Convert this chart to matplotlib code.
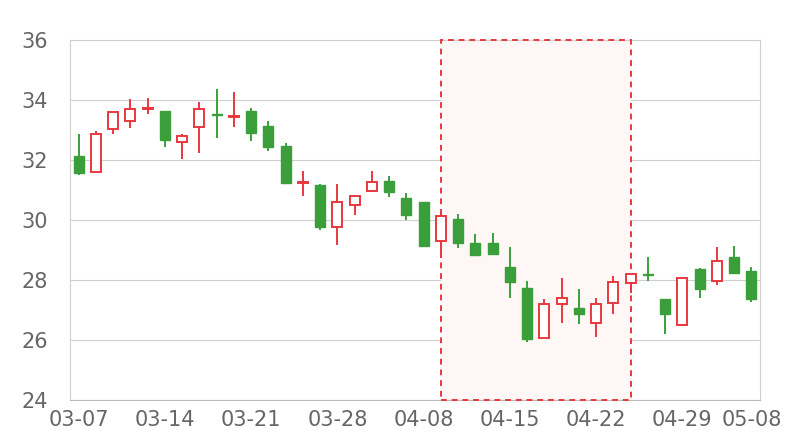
import matplotlib
matplotlib.use("Agg")
import matplotlib.pyplot as plt

# trading days
dates = ["03-07", "03-08", "03-11", "03-12", "03-13", "03-14", "03-15", "03-18", "03-19", "03-20",
         "03-21", "03-22", "03-25", "03-26", "03-27", "03-28", "03-29", "04-01", "04-02", "04-03",
         "04-08", "04-09", "04-10", "04-11", "04-12", "04-15", "04-16", "04-17", "04-18", "04-19",
         "04-22", "04-23", "04-24", "04-25", "04-26", "04-29", "04-30", "05-06", "05-07", "05-08"]

opens = [32.13, 31.61, 33.03, 33.30, 33.69, 33.62, 32.59, 33.11, 33.52, 33.43,
         33.63, 33.13, 32.47, 31.22, 31.16, 29.78, 30.50, 30.97, 31.30, 30.74,
         30.61, 29.31, 30.03, 29.24, 29.22, 28.44, 27.74, 26.08, 27.19, 27.08,
         26.56, 27.22, 27.91, 28.20, 27.37, 26.50, 28.36, 27.98, 28.76, 28.31]
closes = [31.56, 32.86, 33.59, 33.69, 33.72, 32.67, 32.81, 33.69, 33.49, 33.46,
          32.91, 32.42, 31.25, 31.26, 29.76, 30.61, 30.80, 31.26, 30.93, 30.17,
          29.14, 30.14, 29.22, 28.83, 28.87, 27.95, 26.02, 27.20, 27.39, 26.86,
          27.20, 27.94, 28.20, 28.18, 26.87, 28.06, 27.69, 28.63, 28.24, 27.36]
highs = [32.87, 32.95, 33.60, 34.02, 34.06, 33.63, 32.86, 33.92, 34.36, 34.28,
         33.74, 33.30, 32.56, 31.64, 31.19, 31.20, 30.82, 31.63, 31.48, 30.89,
         30.61, 30.28, 30.19, 29.53, 29.57, 29.11, 27.97, 27.36, 28.06, 27.69,
         27.39, 28.14, 28.24, 28.78, 27.38, 28.07, 28.39, 29.09, 29.13, 28.42]
lows = [31.51, 31.56, 32.87, 33.08, 33.52, 32.44, 32.02, 32.22, 32.72, 33.09,
        32.64, 32.31, 31.24, 30.80, 29.67, 29.17, 30.17, 30.92, 30.78, 30.00,
        29.14, 28.72, 29.08, 28.82, 28.86, 27.39, 25.94, 26.07, 26.56, 26.52,
        26.09, 26.87, 27.56, 27.98, 26.20, 26.49, 27.41, 27.83, 28.24, 27.28]

tick_idx = [0, 5, 10, 15, 20, 25, 30, 35, 39]
area_start, area_end = "04-09", "04-24"

red = "#e8383d"
green = "#3a9f3a"
grid_c = "#d0d0d0"
text_c = "#666666"

fig = plt.figure(figsize=(8, 4.4), dpi=100)
ax = fig.add_axes([70 / 800, 40 / 440, 690 / 800, 360 / 440])

x = list(range(len(dates)))

# highlighted area: fill below everything, dashed border above the spines
x0, x1 = dates.index(area_start), dates.index(area_end)
ax.axvspan(x0, x1, facecolor="#fff6f6", edgecolor="none", zorder=1)
ax.axvspan(x0, x1, facecolor="none", edgecolor=red, linestyle=(0, (3, 2.5)),
           linewidth=1.4, zorder=2.7, clip_on=False)

for i in x:
    o, c, h, l = opens[i], closes[i], highs[i], lows[i]
    up = c >= o
    col = red if up else green
    ax.vlines(i, l, h, color=col, linewidth=1.4, zorder=2.8)
    bottom = min(o, c)
    height = max(abs(c - o), 0.03)
    if up:
        ax.bar(i, height, bottom=bottom, width=0.58, facecolor="white",
               edgecolor=col, linewidth=1.4, zorder=3)
    else:
        ax.bar(i, height, bottom=bottom, width=0.58, facecolor=col,
               edgecolor=col, linewidth=1.0, zorder=3)

ax.set_xlim(-0.5, len(dates) - 0.5)
ax.set_ylim(24, 36)
ax.set_yticks(range(24, 37, 2))
ax.set_xticks(tick_idx)
ax.set_xticklabels([dates[i] for i in tick_idx])

ax.grid(axis="y", color=grid_c, linewidth=0.8, zorder=0)
ax.set_axisbelow(True)
for s in ax.spines.values():
    s.set_color(grid_c)
    s.set_linewidth(0.8)
ax.spines["bottom"].set_color("#bbbbbb")

ax.tick_params(axis="y", length=0, pad=16, labelsize=15, labelcolor=text_c)
ax.tick_params(axis="x", length=0, pad=7, labelsize=15, labelcolor=text_c)

fig.savefig("out.png", dpi=100)
